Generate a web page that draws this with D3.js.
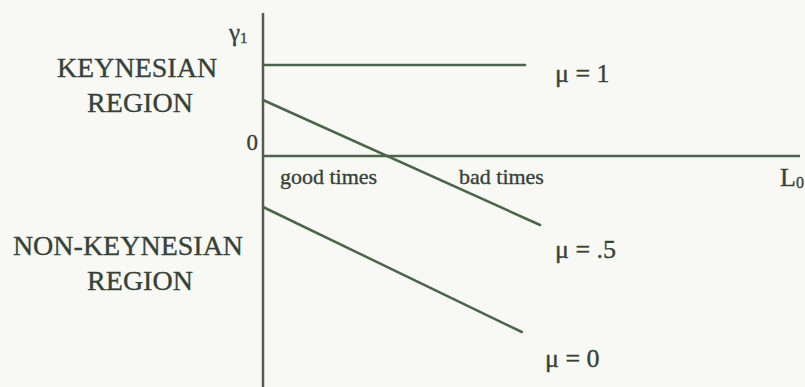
<!DOCTYPE html>
<html>
<head>
<meta charset="utf-8">
<script src="https://cdn.jsdelivr.net/npm/d3@7"></script>
<style>
  body { margin: 0; background: #f8f9f5; }
  svg { display: block; }
  text { font-family: "Liberation Serif", "Times New Roman", serif; fill: #364236; stroke: #364236; stroke-width: 0.35; }
</style>
</head>
<body>
<div id="chart"></div>
<script>
// curves: gamma_1 against L_0 for three values of mu
var series = ["μ = 1", "μ = .5", "μ = 0"];
var gammaStart = [0.91, 0.56, -0.51];
var gammaEnd = [0.91, -0.69, -1.76];
var lEnd = [0.488, 0.516, 0.482];

var regionLabels = [["KEYNESIAN", "REGION"], ["NON-KEYNESIAN", "REGION"]];
var timeLabels = ["good times", "bad times"];

var width = 805, height = 387;

var svg = d3.select("#chart")
  .append("svg")
  .attr("width", width)
  .attr("height", height);

var x = d3.scaleLinear().domain([0, 1]).range([263, 800]);
var y = d3.scaleLinear().domain([-2.31, 1.43]).range([387, 13]);

var lineColor = "#4a664a";

// axes
svg.append("line")
  .attr("x1", x(0)).attr("x2", x(0))
  .attr("y1", y(1.43)).attr("y2", y(-2.31))
  .attr("stroke", "#535c53").attr("stroke-width", 2.5);

svg.append("line")
  .attr("x1", x(0)).attr("x2", x(1))
  .attr("y1", y(0)).attr("y2", y(0))
  .attr("stroke", lineColor).attr("stroke-width", 2.5);

// the three lines
svg.selectAll(".mu-line")
  .data(series)
  .enter().append("line")
  .attr("class", "mu-line")
  .attr("x1", x(0))
  .attr("y1", function(d, i) { return y(gammaStart[i]); })
  .attr("x2", function(d, i) { return x(lEnd[i]); })
  .attr("y2", function(d, i) { return y(gammaEnd[i]); })
  .attr("stroke", lineColor)
  .attr("stroke-width", 2.5)
  .attr("stroke-linecap", "round");

// series labels
var muPos = [[555, 82], [555, 258], [545, 367]];
svg.selectAll(".mu-label")
  .data(series)
  .enter().append("text")
  .attr("class", "mu-label")
  .attr("x", function(d, i) { return muPos[i][0]; })
  .attr("y", function(d, i) { return muPos[i][1]; })
  .attr("font-size", 26)
  .text(function(d) { return d; });

// region labels
var regionPos = [[[137, 77], [140, 112]], [[128, 255], [140, 290]]];
regionLabels.forEach(function(lines, i) {
  lines.forEach(function(t, j) {
    svg.append("text")
      .attr("x", regionPos[i][j][0])
      .attr("y", regionPos[i][j][1])
      .attr("text-anchor", "middle")
      .attr("font-size", 28)
      .text(t);
  });
});

// good / bad times
var timePos = [[280, 184], [459, 184]];
svg.selectAll(".time-label")
  .data(timeLabels)
  .enter().append("text")
  .attr("x", function(d, i) { return timePos[i][0]; })
  .attr("y", function(d, i) { return timePos[i][1]; })
  .attr("font-size", 22)
  .text(function(d) { return d; });

// axis labels
svg.append("text")
  .attr("x", 258).attr("y", 150)
  .attr("text-anchor", "end")
  .attr("font-size", 23)
  .text("0");

var g1 = svg.append("text").attr("x", 229).attr("y", 41).attr("font-size", 25);
g1.append("tspan").text("γ");
g1.append("tspan").attr("font-size", 15).attr("dy", 2).text("1");

var l0 = svg.append("text").attr("x", 780).attr("y", 186).attr("font-size", 26);
l0.append("tspan").text("L");
l0.append("tspan").attr("font-size", 16).attr("dy", 2).text("0");
</script>
</body>
</html>
